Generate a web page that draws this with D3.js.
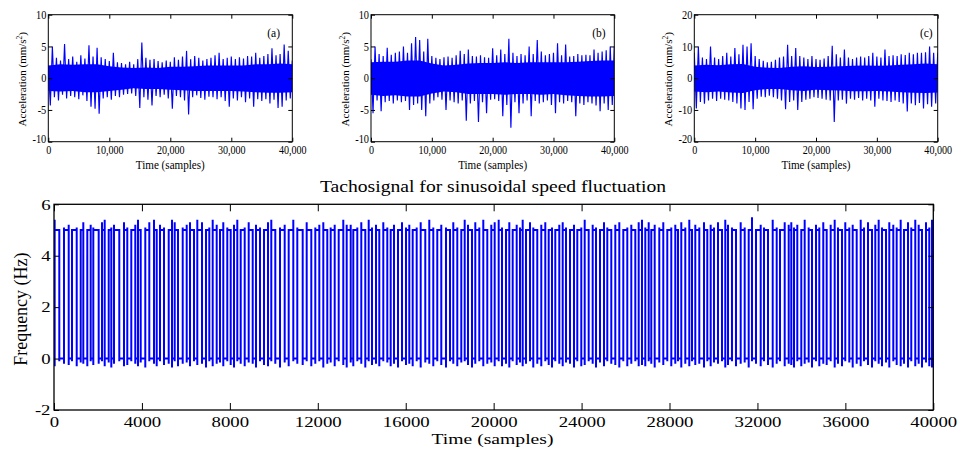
<!DOCTYPE html>
<html><head><meta charset="utf-8">
<script src="https://cdn.jsdelivr.net/npm/d3@7"></script>
<style>
body{margin:0;background:#fff}
svg{display:block;background:#fff}
text{font-family:"Liberation Serif","Times New Roman",serif;fill:#000}
</style>
</head><body>
<svg id="c" width="960" height="450"></svg>
<script>
// ---------- data: vibration signals (decimated readings, mm/s^2) ----------
const accA = [2.0,-4.3,5.0,-3.0,3.2,-3.5,2.8,-2.6,5.4,-3.2,3.0,-2.8,3.4,-3.0,2.6,-3.3,3.6,-2.7,3.1,-3.6,
  5.2,-4.5,3.4,-4.8,4.8,-5.6,3.3,-3.2,3.0,-3.0,2.7,-3.4,4.0,-2.8,2.5,-3.0,2.4,-2.6,2.2,-2.5,
  2.6,-2.4,2.2,-2.8,3.0,-4.7,5.6,-3.0,3.2,-3.4,2.9,-4.3,3.0,-2.8,2.7,-3.0,2.5,-2.6,2.8,-3.2,
  2.6,-4.8,3.3,-2.8,2.9,-3.0,3.4,-3.5,4.3,-5.7,3.0,-3.0,3.5,-2.7,3.2,-3.1,2.8,-3.4,3.0,-2.9,
  3.2,-3.0,3.6,-3.3,4.0,-3.0,3.0,-3.6,3.2,-4.5,3.4,-3.2,3.0,-3.5,3.3,-3.0,3.1,-3.8,3.5,-3.2,
  3.4,-4.5,4.0,-3.3,3.2,-3.6,3.5,-3.3,3.8,-4.0,4.7,-3.4,3.6,-4.7,3.8,-4.5,5.3,-3.5,4.3,-3.2,2.8];
const accB = [3.0,-5.5,5.0,-3.5,3.8,-5.2,3.5,-3.8,4.8,-3.6,3.7,-4.0,4.0,-3.5,4.2,-3.8,5.0,-3.6,4.0,-5.0,
  5.5,-4.2,6.5,-4.0,6.0,-5.0,4.2,-6.0,6.2,-4.0,3.5,-3.5,3.2,-3.0,3.0,-3.4,3.3,-5.0,3.4,-3.5,
  3.2,-3.8,3.6,-4.0,4.3,-3.5,3.8,-6.7,4.5,-4.0,3.5,-3.6,3.4,-6.9,3.6,-3.8,3.3,-5.5,3.2,-3.4,
  4.7,-3.3,3.6,-3.6,4.5,-6.0,3.8,-4.2,6.2,-7.8,4.0,-3.8,3.5,-5.5,3.8,-4.0,3.6,-3.5,5.0,-6.0,
  3.8,-3.6,6.0,-4.0,4.2,-3.8,3.6,-3.5,3.8,-4.2,4.0,-5.5,5.5,-3.8,3.6,-4.0,5.3,-3.6,3.4,-3.8,
  3.5,-6.0,3.8,-4.0,3.6,-4.2,3.7,-3.8,3.6,-4.0,4.5,-4.3,4.0,-5.2,4.2,-4.0,4.4,-5.0,5.0,-4.2,5.0];
const accC = [8.0,-9.5,10.0,-7.5,6.5,-8.0,6.0,-7.0,10.0,-6.5,6.5,-7.2,6.0,-6.5,7.0,-6.8,8.0,-7.0,6.8,-7.5,
  9.5,-8.0,7.5,-9.5,10.5,-10.0,10.0,-7.5,11.0,-9.8,7.0,-6.5,6.0,-5.8,5.5,-6.0,5.0,-5.5,5.2,-6.0,
  5.8,-6.5,6.5,-7.0,6.8,-9.8,10.5,-7.5,7.0,-7.0,9.5,-10.0,7.0,-7.5,6.5,-6.8,6.0,-6.5,7.0,-6.0,
  6.0,-6.2,5.8,-6.5,6.2,-6.8,7.0,-7.0,10.2,-13.8,7.5,-7.0,6.5,-6.8,9.0,-8.0,6.5,-6.5,6.0,-6.8,
  6.5,-6.2,6.8,-7.0,6.5,-6.5,7.0,-7.0,8.0,-9.0,6.8,-6.5,6.5,-7.0,9.0,-7.2,7.0,-7.5,7.2,-7.0,
  7.0,-7.5,7.5,-8.0,7.3,-10.5,8.0,-8.0,7.5,-8.5,8.0,-7.8,8.0,-9.5,8.2,-8.2,10.0,-9.0,8.0,-8.0,8.0];
// dense core band of each vibration signal, read every 2000 samples
const coreAHi = [2.0,2.2,2.1,2.2,2.2,1.9,1.7,1.6,1.7,1.6,1.8,1.8,1.9,2.0,2.0,2.0,2.0,2.2,2.2,2.3,2.2];
const coreALo = [-2.0,-2.1,-2.0,-2.2,-2.2,-2.0,-1.8,-1.6,-1.7,-1.7,-1.8,-1.9,-2.0,-2.0,-2.0,-2.0,-2.1,-2.2,-2.3,-2.3,-2.2];
const coreBHi = [2.5,2.6,2.6,2.8,2.8,2.3,2.0,2.1,2.3,2.4,2.4,2.5,2.4,2.5,2.5,2.5,2.5,2.6,2.7,2.8,2.8];
const coreBLo = [-2.6,-2.8,-2.7,-2.9,-2.9,-2.4,-2.1,-2.2,-2.5,-2.5,-2.5,-2.6,-2.5,-2.5,-2.6,-2.5,-2.7,-2.8,-2.9,-2.9,-2.8];
const coreCHi = [4.0,4.2,4.1,4.4,4.5,3.6,3.3,3.2,3.6,3.8,3.5,3.6,3.8,3.9,4.0,3.9,4.0,4.2,4.4,4.6,4.4];
const coreCLo = [-4.2,-4.4,-4.2,-4.5,-4.7,-3.8,-3.4,-3.4,-3.8,-4.0,-3.6,-3.8,-3.9,-4.1,-4.1,-4.0,-4.2,-4.4,-4.6,-4.7,-4.5];
const accXTicks = [0, 10000, 20000, 30000, 40000];
const accYTicksAB = [-10, -5, 0, 5, 10];
const accYTicksC = [-20, -10, 0, 10, 20];
const panelLabels = ["(a)", "(b)", "(c)"];

// ---------- data: tachosignal (edge times in samples, edge extremes in Hz) ----------
const tachoEdges = [30,241,455,669,819,1033,1215,1333,1515,1669,1788,2033,2184,2306,2488,2607,2729,2970,3184,3334,3516,3698,3821,3944,4153,4335,4549,4672,4822,5004,5218,5368,5491,5641,5855,6037,6187,6369,6519,
  6733,6914,7065,7219,7401,7551,7701,7883,8038,8188,8338,8493,8675,8857,9039,9189,9371,9553,9735,9885,10067,10281,10494,10676,10886,11068,11313,11495,11705,11887,12069,12251,12432,12587,12769,12951,13160,13315,
  13497,13615,13797,13979,14161,14316,14466,14648,14798,14980,15162,15316,15467,15649,15831,16012,16163,16317,16499,16681,16890,17072,17254,17436,17618,17832,18014,18164,18346,18528,18683,18833,19015,19165,19347,19529,19711,19893,20047,
  20229,20380,20561,20712,20866,21048,21198,21321,21471,21653,21803,21985,22167,22349,22504,22654,22804,22986,23141,23291,23473,23655,23805,23987,24142,24323,24505,24656,24838,25020,25170,25352,25534,25716,25898,26080,26262,26444,26598,26748,
  26898,27053,27171,27326,27535,27717,27899,28081,28263,28386,28536,28718,28900,29023,29173,29355,29569,29719,29873,30023,30205,30387,30537,30660,30842,31024,31238,31420,31602,31752,31934,32148,32298,32480,32694,32876,33026,33240,33422,
  33540,33663,33813,33995,34149,34331,34481,34663,34814,34995,35150,35332,35514,35664,35846,35996,36178,36333,36515,36697,36847,37029,37211,37361,37515,37666,37848,37998,38180,38334,38516,38666,38848,38998,39180,39335,39485,39667,39817,39940];
const tachoPeak = [5.4,5.0,5.1,5.2,5.0,5.1,5.0,5.3,5.0,5.2,5.1,5.0,5.3,5.4,5.0,5.1,5.2,5.0,5.3,5.1,5.0,5.2,5.4,5.0,5.1,5.3,5.4,5.0,5.2,5.1,5.0,5.4,5.3,5.0,5.1,5.2,5.3,5.0,5.4,
  5.3,5.0,5.1,5.4,5.2,5.0,5.3,5.1,5.0,5.2,5.4,5.0,5.1,5.3,5.0,5.2,5.1,5.0,5.3,5.4,5.0,5.1,5.2,5.0,5.4,5.1,5.0,5.3,5.0,5.1,5.2,5.3,5.0,5.1,5.2,5.0,5.4,5.2,
  5.2,5.0,5.1,5.3,5.0,5.4,5.1,5.2,5.0,5.3,5.1,5.0,5.2,5.0,5.3,5.1,5.2,5.0,5.1,5.3,5.0,5.4,5.1,5.0,5.2,5.1,5.0,5.3,5.1,5.0,5.4,5.2,5.0,5.3,5.1,5.4,5.0,5.2,5.3,
  5.4,5.1,5.0,5.3,5.0,5.2,5.1,5.4,5.0,5.3,5.1,5.0,5.2,5.3,5.0,5.1,5.0,5.2,5.3,5.1,5.0,5.2,5.0,5.1,5.4,5.0,5.2,5.1,5.0,5.3,5.1,5.0,5.2,5.3,5.0,5.1,5.2,5.0,5.3,5.4,
  5.1,5.3,5.0,5.2,5.1,5.3,5.0,5.1,5.2,5.0,5.3,5.1,5.4,5.0,5.2,5.1,5.3,5.0,5.2,5.1,5.3,5.0,5.4,5.2,5.1,5.0,5.3,5.1,5.0,5.5,5.0,5.2,5.1,5.0,5.4,5.1,5.0,5.3,5.2,
  5.3,5.1,5.2,5.0,5.4,5.1,5.0,5.2,5.1,5.3,5.0,5.2,5.4,5.1,5.0,5.3,5.1,5.2,5.0,5.4,5.1,5.3,5.0,5.2,5.4,5.1,5.0,5.3,5.2,5.1,5.4,5.0,5.3,5.1,5.4,5.2,5.0,5.3,5.1,5.4];
const tachoDip = [-0.3,-0.1,-0.2,-0.25,-0.1,-0.3,-0.15,-0.2,-0.3,-0.1,-0.25,-0.2,-0.1,-0.3,-0.15,-0.35,-0.2,-0.1,-0.3,-0.25,-0.1,-0.2,-0.3,-0.15,-0.35,-0.1,-0.2,-0.3,-0.1,-0.25,-0.2,-0.35,-0.1,-0.3,-0.2,-0.15,-0.3,-0.1,-0.25,
  -0.2,-0.35,-0.1,-0.3,-0.2,-0.15,-0.3,-0.1,-0.25,-0.35,-0.1,-0.2,-0.3,-0.15,-0.2,-0.35,-0.1,-0.25,-0.3,-0.1,-0.2,-0.35,-0.15,-0.3,-0.1,-0.2,-0.25,-0.1,-0.3,-0.2,-0.1,-0.35,-0.2,-0.15,-0.3,-0.1,-0.25,-0.35,
  -0.15,-0.3,-0.1,-0.2,-0.35,-0.1,-0.25,-0.2,-0.3,-0.1,-0.15,-0.3,-0.2,-0.35,-0.1,-0.25,-0.2,-0.3,-0.1,-0.35,-0.15,-0.2,-0.3,-0.1,-0.25,-0.35,-0.1,-0.2,-0.3,-0.15,-0.1,-0.25,-0.35,-0.2,-0.1,-0.3,-0.2,-0.15,-0.3,
  -0.1,-0.3,-0.2,-0.35,-0.1,-0.25,-0.15,-0.3,-0.2,-0.1,-0.35,-0.2,-0.3,-0.1,-0.25,-0.35,-0.1,-0.2,-0.3,-0.15,-0.2,-0.35,-0.1,-0.3,-0.25,-0.1,-0.2,-0.35,-0.15,-0.3,-0.1,-0.2,-0.25,-0.35,-0.1,-0.3,-0.2,-0.1,-0.3,-0.25,
  -0.3,-0.1,-0.2,-0.35,-0.15,-0.25,-0.1,-0.3,-0.2,-0.1,-0.35,-0.2,-0.3,-0.1,-0.25,-0.2,-0.35,-0.1,-0.3,-0.15,-0.2,-0.1,-0.35,-0.25,-0.1,-0.3,-0.2,-0.15,-0.35,-0.1,-0.2,-0.3,-0.1,-0.25,-0.35,-0.2,-0.1,-0.3,-0.2,
  -0.25,-0.35,-0.1,-0.3,-0.2,-0.15,-0.35,-0.1,-0.3,-0.2,-0.25,-0.1,-0.35,-0.2,-0.3,-0.1,-0.15,-0.35,-0.2,-0.3,-0.1,-0.25,-0.35,-0.1,-0.2,-0.3,-0.15,-0.35,-0.1,-0.25,-0.3,-0.2,-0.35,-0.1,-0.3,-0.2,-0.35,-0.15,-0.3,-0.35];
const tachoXTicks = [0,4000,8000,12000,16000,20000,24000,28000,32000,36000,40000];
const tachoYTicks = [-2, 0, 2, 4, 6];

// ---------- drawing ----------
const svg = d3.select("#c");
const BLUE = "#0000ff";
const plain = d => String(d); // hyphen-minus like the original

function squeeze(sel, f) {
  sel.each(function () {
    const L = this.getComputedTextLength();
    if (L > 0) { this.setAttribute("textLength", L * f); this.setAttribute("lengthAdjust", "spacingAndGlyphs"); }
  });
}
function fitWidth(sel, w) {
  sel.attr("textLength", w).attr("lengthAdjust", "spacingAndGlyphs");
}
function styleAxis(g, fs) {
  g.attr("font-family", '"Liberation Serif","Times New Roman",serif').attr("font-size", fs);
  g.select(".domain").remove();
  g.selectAll(".tick line").attr("stroke", "#000");
  g.selectAll(".tick text").attr("fill", "#000");
}

// small panels
const panels = [
  { vals: accA, hi: coreAHi, lo: coreALo, x0: 48.3, x1: 292.3, yDom: [-10, 10], yt: accYTicksAB, labelX: 37980 },
  { vals: accB, hi: coreBHi, lo: coreBLo, x0: 371.0, x1: 614.3, yDom: [-10, 10], yt: accYTicksAB, labelX: 38580 },
  { vals: accC, hi: coreCHi, lo: coreCLo, x0: 694.3, x1: 937.7, yDom: [-20, 20], yt: accYTicksC, labelX: 39180 }
];
const sTop = 14.7, sBot = 141.7;
panels.forEach((p, pi) => {
  const x = d3.scaleLinear().domain([0, 40000]).range([p.x0, p.x1]);
  const y = d3.scaleLinear().domain(p.yDom).range([sBot, sTop]);
  const g = svg.append("g");
  const cid = "clipS" + pi;
  svg.append("clipPath").attr("id", cid).append("rect")
    .attr("x", p.x0).attr("y", sTop).attr("width", p.x1 - p.x0).attr("height", sBot - sTop);
  const nc = p.hi.length;
  g.append("path").datum(p.hi.map((h, i) => [i * 40000 / (nc - 1), h, p.lo[i]]))
    .attr("clip-path", `url(#${cid})`).attr("fill", BLUE).attr("stroke", "none")
    .attr("d", d3.area().x(d => x(d[0])).y0(d => y(d[2])).y1(d => y(d[1])));
  const n = p.vals.length;
  g.append("path").datum(p.vals).attr("clip-path", `url(#${cid})`)
    .attr("fill", "none").attr("stroke", BLUE).attr("stroke-width", 1.15).attr("stroke-linejoin", "miter")
    .attr("d", d3.line().x((d, i) => x(i * 40000 / (n - 1))).y(d => y(d)));

  const ab = g.append("g").attr("transform", `translate(0,${sBot})`)
    .call(d3.axisBottom(x).tickValues(accXTicks).tickFormat(d3.format(",")).tickSize(-4).tickSizeOuter(0).tickPadding(4));
  styleAxis(ab, 12); squeeze(ab.selectAll("text"), 0.84);
  const at = g.append("g").attr("transform", `translate(0,${sTop})`)
    .call(d3.axisTop(x).tickValues(accXTicks).tickFormat("").tickSize(-4).tickSizeOuter(0));
  styleAxis(at, 12);
  const al = g.append("g").attr("transform", `translate(${p.x0},0)`)
    .call(d3.axisLeft(y).tickValues(p.yt).tickFormat(plain).tickSize(-4).tickSizeOuter(0).tickPadding(2));
  styleAxis(al, 11.5); squeeze(al.selectAll("text"), 0.9);
  al.selectAll(".tick text").attr("dy", (d) => d === p.yDom[0] ? "0.1em" : "0.32em");
  const ar = g.append("g").attr("transform", `translate(${p.x1},0)`)
    .call(d3.axisRight(y).tickValues(p.yt).tickFormat("").tickSize(-4).tickSizeOuter(0));
  styleAxis(ar, 12);
  g.append("rect").attr("x", p.x0).attr("y", sTop).attr("width", p.x1 - p.x0).attr("height", sBot - sTop)
    .attr("fill", "none").attr("stroke", "#000").attr("stroke-width", 1);

  g.append("text").attr("x", x(p.labelX)).attr("y", 36.5).attr("text-anchor", "end")
    .attr("font-size", 11.5).text(panelLabels[pi]);
  const xl = g.append("text").attr("x", (p.x0 + p.x1) / 2).attr("y", 168.5).attr("text-anchor", "middle")
    .attr("font-size", 12).text("Time (samples)");
  fitWidth(xl, 69);
  const yl = g.append("text").attr("transform", `translate(${p.x0 - 22},${(sTop + sBot) / 2 + 1}) rotate(-90)`)
    .attr("text-anchor", "middle").attr("font-size", 11);
  yl.append("tspan").text("Acceleration (mm/s");
  yl.append("tspan").attr("dy", -4).attr("font-size", 7.5).text("2");
  yl.append("tspan").attr("dy", 4).text(")");
});

// big tachosignal panel
const bx0 = 54, bx1 = 933.3, by0 = 204.3, by1 = 410;
const X = d3.scaleLinear().domain([0, 40000]).range([bx0, bx1]);
const Y = d3.scaleLinear().domain([-2, 6]).range([by1, by0]);
svg.append("clipPath").attr("id", "clipB").append("rect")
  .attr("x", bx0).attr("y", by0).attr("width", bx1 - bx0).attr("height", by1 - by0);
let lvl = 0;
const pts = [[0, 0]];
tachoEdges.forEach((t, i) => {
  const nl = lvl === 0 ? 5 : 0;
  pts.push([t, lvl], [t, tachoPeak[i] ?? 5.1], [t, tachoDip[i] ?? -0.2], [t, nl]);
  lvl = nl;
});
pts.push([40000, lvl]);
const gb = svg.append("g");
gb.append("path").datum(pts).attr("clip-path", "url(#clipB)")
  .attr("fill", "none").attr("stroke", BLUE).attr("stroke-width", 2)
  .attr("d", d3.line().x(d => X(d[0])).y(d => Y(d[1])));

const bb = gb.append("g").attr("transform", `translate(0,${by1})`)
  .call(d3.axisBottom(X).tickValues(tachoXTicks).tickFormat(d3.format("d")).tickSize(-7).tickSizeOuter(0).tickPadding(6));
styleAxis(bb, 15); squeeze(bb.selectAll("text"), 1.25);
const bt = gb.append("g").attr("transform", `translate(0,${by0})`)
  .call(d3.axisTop(X).tickValues(tachoXTicks).tickFormat("").tickSize(-7).tickSizeOuter(0));
styleAxis(bt, 15);
const bl = gb.append("g").attr("transform", `translate(${bx0},0)`)
  .call(d3.axisLeft(Y).tickValues(tachoYTicks).tickFormat(plain).tickSize(-5).tickSizeOuter(0).tickPadding(3.5));
styleAxis(bl, 15); squeeze(bl.selectAll("text"), 1.25);
const br = gb.append("g").attr("transform", `translate(${bx1},0)`)
  .call(d3.axisRight(Y).tickValues(tachoYTicks).tickFormat("").tickSize(-5).tickSizeOuter(0));
styleAxis(br, 15);
gb.append("rect").attr("x", bx0).attr("y", by0).attr("width", bx1 - bx0).attr("height", by1 - by0)
  .attr("fill", "none").attr("stroke", "#000").attr("stroke-width", 1.3);

const title = svg.append("text").attr("x", 493).attr("y", 192).attr("text-anchor", "middle")
  .attr("font-size", 17).text("Tachosignal for sinusoidal speed fluctuation");
fitWidth(title, 346);
const bxl = svg.append("text").attr("x", 492.5).attr("y", 444).attr("text-anchor", "middle")
  .attr("font-size", 15.5).text("Time (samples)");
fitWidth(bxl, 122);
svg.append("text").attr("transform", `translate(26.5,${(by0 + by1) / 2 + 2}) rotate(-90)`)
  .attr("text-anchor", "middle").attr("font-size", 18).text("Frequency (Hz)");
</script>
</body></html>
